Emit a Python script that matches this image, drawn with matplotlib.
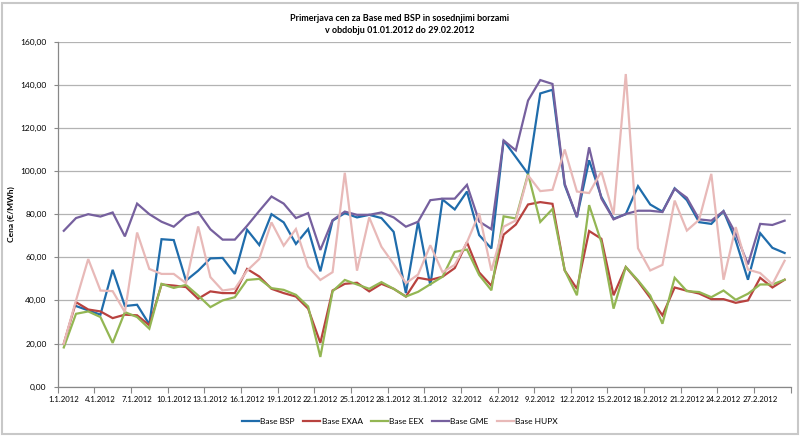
import numpy as np
import pandas as pd
import matplotlib
matplotlib.use("Agg")
import matplotlib.pyplot as plt
from matplotlib.patches import Rectangle

# -------- Data (daily base prices, EUR/MWh) --------
dates = pd.date_range("2012-01-01", "2012-02-29", freq="D")
day_labels = [f"{d.day}.{d.month}.{d.year}" for d in dates]

base_bsp = [np.nan, 37.4, 35.4, 33.4, 54.2, 37.4, 38.0, 28.9, 68.4, 68.0,
            49.2, 53.8, 59.5, 59.7, 52.3, 72.8, 65.7, 80.0, 76.2, 66.2,
            73.1, 53.5, 77.0, 80.5, 78.5, 79.7, 78.2, 71.8, 43.4, 76.5,
            47.0, 86.8, 82.2, 90.5, 70.3, 64.1, 114.2, 106.5, 98.7, 136.0,
            137.7, 93.5, 78.6, 105.0, 88.0, 77.9, 80.0, 93.0, 84.5, 81.2,
            92.0, 86.5, 76.3, 75.5, 81.4, 67.8, 49.6, 71.2, 64.4, 62.0]

base_exaa = [20.0, 39.2, 35.8, 34.9, 31.8, 33.4, 33.1, 28.5, 47.4, 46.9,
             46.2, 40.8, 44.2, 43.4, 43.4, 54.6, 51.1, 45.4, 43.4, 41.8,
             36.2, 20.3, 44.6, 47.7, 48.2, 44.2, 47.7, 45.4, 41.8, 50.5,
             49.5, 51.0, 55.0, 67.0, 53.0, 46.8, 70.5, 75.2, 84.5, 85.6,
             84.8, 53.9, 45.4, 72.2, 68.6, 42.4, 55.5, 48.9, 41.2, 33.1,
             46.0, 44.5, 43.2, 40.6, 40.6, 38.9, 40.0, 50.5, 46.0, 49.6]

base_eex = [18.2, 33.8, 34.9, 32.3, 20.3, 34.6, 32.3, 26.9, 47.7, 45.8,
            47.2, 42.3, 36.9, 40.0, 41.5, 49.5, 50.0, 45.7, 44.9, 42.6,
            37.2, 13.8, 44.2, 49.5, 47.4, 45.4, 48.5, 45.4, 41.8, 44.0,
            47.5, 51.0, 62.5, 63.6, 51.8, 44.7, 79.0, 78.0, 98.7, 76.4,
            82.4, 54.0, 42.4, 84.2, 67.0, 36.2, 55.5, 49.3, 42.3, 29.2,
            50.5, 44.3, 43.9, 41.5, 44.6, 40.3, 43.1, 47.4, 47.4, 49.6]

base_gme = [72.3, 78.2, 80.0, 78.9, 80.8, 69.7, 84.9, 80.0, 76.5, 74.2,
            79.2, 81.0, 73.0, 68.2, 68.2, 74.6, 81.5, 88.2, 84.9, 78.2,
            80.5, 63.4, 77.2, 81.2, 79.7, 79.7, 80.8, 78.5, 74.2, 76.5,
            86.5, 87.2, 87.2, 93.6, 76.6, 73.0, 114.2, 109.6, 132.7, 142.2,
            140.4, 94.1, 78.7, 111.0, 87.3, 77.6, 80.1, 81.6, 81.6, 81.0,
            91.8, 87.6, 77.6, 77.0, 81.4, 71.0, 56.7, 75.5, 75.0, 77.0]

base_hupx = [20.0, 40.0, 59.2, 44.6, 44.3, 34.6, 71.5, 54.6, 52.3, 52.3,
             48.0, 74.3, 50.8, 44.6, 45.4, 53.8, 59.2, 76.2, 65.4, 73.1,
             55.7, 49.5, 53.1, 99.2, 53.8, 78.5, 64.9, 56.9, 48.0, 52.0,
             65.6, 53.1, 56.5, 67.0, 80.4, 53.8, 74.2, 77.1, 98.0, 90.7,
             91.3, 110.0, 90.5, 89.8, 99.8, 79.8, 145.0, 64.2, 53.9, 56.5,
             86.3, 72.4, 77.4, 98.7, 49.6, 74.0, 54.3, 52.7, 47.5, 58.4]

series = [
    ("Base BSP", base_bsp, "#1f6cab"),
    ("Base EXAA", base_exaa, "#b8423f"),
    ("Base EEX", base_eex, "#93b653"),
    ("Base GME", base_gme, "#76609e"),
    ("Base HUPX", base_hupx, "#e8b9b8"),
]

# -------- Figure --------
plt.rcParams["font.family"] = ["Lato", "DejaVu Sans"]
fig = plt.figure(figsize=(8, 4.36), dpi=100)
ax = fig.add_axes([0.0721, 0.1131, 0.9163, 0.7913])

x = np.arange(len(dates))
for name, vals, col in series:
    ax.plot(x, vals, color=col, lw=1.6, label=name, solid_joinstyle="miter")

ax.set_xlim(-0.5, len(dates) - 0.5)
ax.set_ylim(0, 160)
yt = np.arange(0, 161, 20)
ax.set_yticks(yt)
ax.set_yticklabels([f"{v:.2f}".replace(".", ",") for v in yt], fontsize=6)
ax.yaxis.grid(True, color="#b3b3b3", lw=0.9)
ax.set_axisbelow(True)

# category ticks between days, labels on every third day
ax.set_xticks(np.arange(-0.5, len(dates), 3))
ax.set_xticklabels([])
ax.set_xticks(x[::3], minor=True)
ax.set_xticklabels(day_labels[::3], minor=True, fontsize=5.6)
ax.tick_params(axis="x", which="major", length=4, color="#888888")
ax.tick_params(axis="x", which="minor", length=0, pad=7)
ax.tick_params(axis="y", length=3, color="#888888", pad=5)

for s in ["top", "right"]:
    ax.spines[s].set_visible(False)
for s in ["left", "bottom"]:
    ax.spines[s].set_color("#888888")
    ax.spines[s].set_linewidth(0.9)

ax.set_ylabel("Cena (€/MWh)", fontsize=6, fontweight="bold", labelpad=4)

fig.text(0.5, 0.958, "Primerjava cen za Base med BSP in sosednjimi borzami",
         ha="center", va="center", fontsize=6.5, fontweight="bold")
fig.text(0.5, 0.930, "v obdobju 01.01.2012 do 29.02.2012",
         ha="center", va="center", fontsize=6.5, fontweight="bold")

fig.legend(loc="center", bbox_to_anchor=(0.5, 0.033), ncol=5, frameon=False,
           fontsize=6, handlelength=2.0, columnspacing=1.0, handletextpad=0.2)

fig.patches.append(Rectangle((0.002, 0.004), 0.996, 0.99, transform=fig.transFigure,
                             fill=False, edgecolor="#c8c8c8", lw=1.5))

fig.savefig("out.png", dpi=100)
